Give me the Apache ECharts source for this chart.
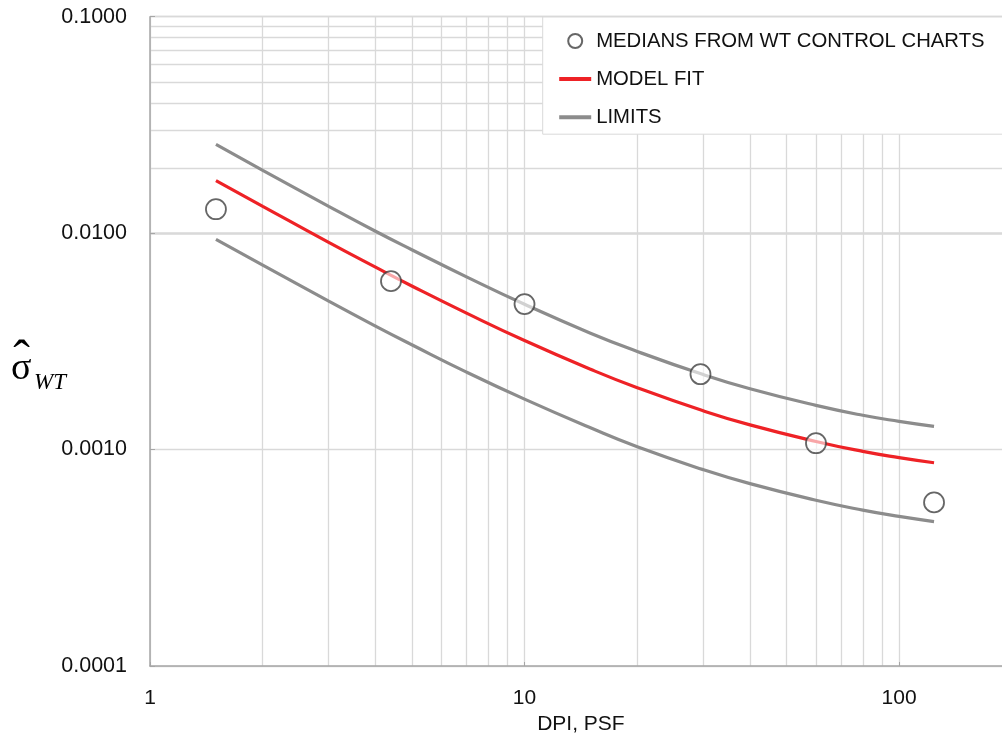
<!DOCTYPE html>
<html>
<head>
<meta charset="utf-8">
<script src="https://cdn.jsdelivr.net/npm/echarts@6/dist/echarts.min.js"></script>
<style>
html,body{margin:0;padding:0;background:#fff;}
#chart{width:1002px;height:753px;}
</style>
</head>
<body>
<div id="chart"></div>
<script>
// Medians from WT control charts (DPI, sigma)
const medianX = [1.5, 4.4, 10, 29.5, 60, 124];
const medianY = [0.0129, 0.0060, 0.0047, 0.00223, 0.00107, 0.00057];

// Curves
const curveX  = [1.5, 2, 3, 4, 5, 7, 10, 15, 20, 30, 40, 60, 80, 100, 124];
const modelY  = [0.0175, 0.0133, 0.00906, 0.00696, 0.00570, 0.00427, 0.00319, 0.00235, 0.00193, 0.00151, 0.00130, 0.00109, 0.000981, 0.000918, 0.000869];
const upperY  = [0.0257, 0.0195, 0.0133, 0.0102, 0.00838, 0.00628, 0.00469, 0.00345, 0.00284, 0.00222, 0.00191, 0.00160, 0.00144, 0.00135, 0.00128];
const lowerY  = [0.00936, 0.00712, 0.00485, 0.00372, 0.00305, 0.00228, 0.00171, 0.00126, 0.00103, 0.000808, 0.000696, 0.000583, 0.000525, 0.000491, 0.000465];

// Minor grid positions
const xMinor = [2,3,4,5,6,7,8,9,20,30,40,50,60,70,80,90];
const yMinor = [0.0002,0.0003,0.0004,0.0005,0.0006,0.0007,0.0008,0.0009,
                0.002,0.003,0.004,0.005,0.006,0.007,0.008,0.009,
                0.02,0.03,0.04,0.05,0.06,0.07,0.08,0.09];

const legendNames = ['MEDIANS FROM WT CONTROL CHARTS', 'MODEL FIT', 'LIMITS'];
const xName = 'DPI, PSF';

const zip = (xs, ys) => xs.map((x, i) => [x, ys[i]]);
const FONT = 'Liberation Sans';
const GRID = '#d9d9d9';
const TXT = '#111111';
const RED = '#ee2226';
const GRAY = '#8c8c8c';

const chart = echarts.init(document.getElementById('chart'), null, {renderer: 'canvas'});
chart.setOption({
  backgroundColor: '#ffffff',
  animation: false,
  grid: {left: 150, top: 16.7, bottom: 87, right: -9.8, containLabel: false, outerBoundsMode: 'none'},
  legend: {
    data: [
      {name: legendNames[0]},
      {name: legendNames[1], itemStyle: {opacity: 0}, lineStyle: {width: 4, color: RED}},
      {name: legendNames[2], itemStyle: {opacity: 0}, lineStyle: {width: 4, color: GRAY}}
    ],
    orient: 'vertical',
    left: 542.7, top: 17, z: 20,
    padding: [14, 120, 7, 14.5],
    itemWidth: 32, itemHeight: 14, itemGap: 18.1,
    backgroundColor: '#ffffff',
    borderColor: '#d9d9d9', borderWidth: 1,
    textStyle: {fontFamily: FONT, fontSize: 20.3, color: TXT, lineHeight: 20},
    selectedMode: false
  },
  xAxis: {
    type: 'log', logBase: 10, min: 1, max: 200,
    name: xName, nameLocation: 'middle', nameGap: 46,
    nameTextStyle: {fontFamily: FONT, fontSize: 21, color: TXT},
    axisLine: {show: true, lineStyle: {color: '#a6a6a6', width: 1.5}},
    axisTick: {show: true, inside: true, length: 4, lineStyle: {color: '#a6a6a6'}},
    axisLabel: {fontFamily: FONT, fontSize: 21, color: TXT, margin: 22,
      formatter: v => (Math.abs(Math.log10(v) - Math.round(Math.log10(v))) < 1e-6 && v < 150) ? String(Math.round(v)) : ''},
    splitLine: {show: true, lineStyle: {color: GRID, width: 1.3}}
  },
  yAxis: {
    type: 'log', logBase: 10, min: 0.0001, max: 0.1,
    axisLine: {show: true, lineStyle: {color: '#a6a6a6', width: 1.5}},
    axisTick: {show: true, inside: true, length: 5, lineStyle: {color: '#a6a6a6'}},
    axisLabel: {fontFamily: FONT, fontSize: 21.5, color: TXT, margin: 23,
      formatter: v => v.toFixed(4)},
    splitLine: {show: true, lineStyle: {color: GRID, width: 1.3}}
  },
  graphic: [
    {type: 'text', x: 11, y: 350, z: 10,
     style: {text: 'σ', fontFamily: 'Liberation Serif', fontSize: 38, fill: '#000', verticalAlign: 'top', align: 'left'}},
    {type: 'text', x: 21.5, y: 337, z: 10,
     style: {text: '\u02C6', fontFamily: 'Liberation Serif', fontSize: 50, fill: '#000', verticalAlign: 'top', align: 'center'}},
    {type: 'text', x: 34, y: 371, z: 10,
     style: {text: 'WT', fontFamily: 'Liberation Serif', fontStyle: 'italic', fontSize: 23, fill: '#000', verticalAlign: 'top', align: 'left'}}
  ],
  series: [
    {
      name: 'grid-minor', type: 'scatter', data: [], silent: true, z: 0,
      markLine: {
        silent: true, z: 0, symbol: ['none', 'none'], label: {show: false},
        lineStyle: {color: GRID, width: 1.3, type: 'solid'},
        emphasis: {disabled: true},
        data: xMinor.map(v => ({xAxis: v})).concat(yMinor.map(v => ({yAxis: v})))
      }
    },
    {
      name: 'LIMITS', type: 'line', data: zip(curveX, upperY), smooth: 0.5,
      showSymbol: false, z: 2,
      lineStyle: {color: GRAY, width: 3.2}, itemStyle: {color: GRAY}
    },
    {
      name: 'LIMITS', type: 'line', data: zip(curveX, lowerY), smooth: 0.5,
      showSymbol: false, z: 2,
      lineStyle: {color: GRAY, width: 3.2}, itemStyle: {color: GRAY}
    },
    {
      name: 'MODEL FIT', type: 'line', data: zip(curveX, modelY), smooth: 0.5,
      showSymbol: false, z: 3,
      lineStyle: {color: RED, width: 3.2}, itemStyle: {color: RED}
    },
    {
      name: 'MEDIANS FROM WT CONTROL CHARTS', type: 'scatter', data: zip(medianX, medianY),
      symbol: 'circle', symbolSize: 20, z: 5,
      itemStyle: {color: 'rgba(255,255,255,0.75)', borderColor: '#404040', borderWidth: 1.8}
    }
  ]
});
</script>
</body>
</html>
